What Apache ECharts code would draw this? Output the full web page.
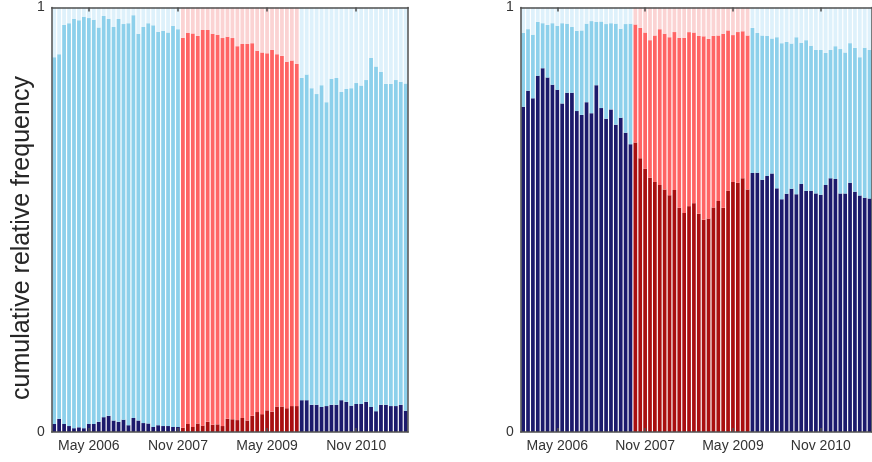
<!DOCTYPE html>
<html>
<head>
<meta charset="utf-8">
<script src="https://cdn.jsdelivr.net/npm/echarts@6/dist/echarts.min.js"></script>
<style>
  html, body { margin: 0; padding: 0; background: #fff; }
  #chart { width: 872px; height: 462px; }
</style>
</head>
<body>
<div id="chart"></div>
<script>
// Monthly observations, Oct 2005 – Sep 2011
const categories = [
  'Oct 2005','Nov 2005','Dec 2005',
  'Jan 2006','Feb 2006','Mar 2006','Apr 2006','May 2006','Jun 2006','Jul 2006','Aug 2006','Sep 2006','Oct 2006','Nov 2006','Dec 2006',
  'Jan 2007','Feb 2007','Mar 2007','Apr 2007','May 2007','Jun 2007','Jul 2007','Aug 2007','Sep 2007','Oct 2007','Nov 2007','Dec 2007',
  'Jan 2008','Feb 2008','Mar 2008','Apr 2008','May 2008','Jun 2008','Jul 2008','Aug 2008','Sep 2008','Oct 2008','Nov 2008','Dec 2008',
  'Jan 2009','Feb 2009','Mar 2009','Apr 2009','May 2009','Jun 2009','Jul 2009','Aug 2009','Sep 2009','Oct 2009','Nov 2009','Dec 2009',
  'Jan 2010','Feb 2010','Mar 2010','Apr 2010','May 2010','Jun 2010','Jul 2010','Aug 2010','Sep 2010','Oct 2010','Nov 2010','Dec 2010',
  'Jan 2011','Feb 2011','Mar 2011','Apr 2011','May 2011','Jun 2011','Jul 2011','Aug 2011','Sep 2011'
];
const tickLabels = ['May 2006', 'Nov 2007', 'May 2009', 'Nov 2010'];
const yTitle = 'cumulative relative frequency';

// Left panel: cumulative share of the lowest state and of the two lowest states
const leftDark = [
  0.019,0.031,0.019,0.014,0.009,0.011,0.009,0.019,0.019,0.024,0.035,0.038,0.027,0.024,0.029,0.016,0.033,0.027,0.021,0.020,0.012,0.016,0.014,0.014,0.012,0.012,
  0.010,0.019,0.012,0.020,0.015,0.024,0.017,0.018,0.014,0.031,0.030,0.028,0.033,0.027,0.038,0.047,0.042,0.051,0.048,0.060,0.060,0.056,0.061,0.061,
  0.075,0.075,0.064,0.064,0.059,0.061,0.064,0.064,0.075,0.071,0.062,0.066,0.066,0.071,0.059,0.049,0.064,0.064,0.061,0.061,0.064,0.050
];
const leftMid = [
  0.883,0.890,0.959,0.963,0.973,0.970,0.978,0.975,0.971,0.953,0.980,0.973,0.954,0.973,0.961,0.963,0.982,0.938,0.954,0.963,0.958,0.943,0.945,0.941,0.957,0.949,
  0.929,0.940,0.939,0.933,0.947,0.947,0.938,0.936,0.928,0.931,0.928,0.909,0.914,0.914,0.916,0.898,0.894,0.892,0.900,0.890,0.886,0.872,0.875,0.867,
  0.834,0.842,0.810,0.796,0.817,0.777,0.832,0.834,0.801,0.808,0.810,0.822,0.816,0.829,0.881,0.861,0.848,0.820,0.820,0.829,0.825,0.821
];
const leftRecession = ['Dec 2007', 'Nov 2009'];

// Right panel
const rightDark = [
  0.766,0.804,0.786,0.839,0.857,0.835,0.818,0.806,0.774,0.799,0.799,0.756,0.747,0.777,0.751,0.817,0.763,0.738,0.760,0.724,0.740,0.705,0.678,
  0.682,0.645,0.620,0.599,0.589,0.582,0.571,0.558,0.570,0.528,0.516,0.532,0.539,0.514,0.500,0.503,0.529,0.544,0.528,0.568,0.589,0.587,0.598,0.571,
  0.610,0.611,0.594,0.603,0.609,0.574,0.548,0.561,0.573,0.560,0.584,0.568,0.568,0.562,0.559,0.582,0.598,0.596,0.562,0.562,0.587,0.566,0.557,0.552,0.550
];
const rightMid = [
  0.940,0.949,0.936,0.966,0.963,0.959,0.963,0.957,0.963,0.962,0.954,0.945,0.946,0.962,0.968,0.966,0.967,0.961,0.963,0.962,0.950,0.961,0.962,
  0.960,0.952,0.941,0.923,0.934,0.949,0.938,0.930,0.942,0.929,0.929,0.942,0.941,0.933,0.932,0.926,0.933,0.934,0.938,0.946,0.935,0.942,0.944,0.934,
  0.952,0.940,0.934,0.933,0.927,0.930,0.916,0.919,0.915,0.930,0.917,0.923,0.910,0.900,0.900,0.893,0.900,0.909,0.902,0.894,0.916,0.905,0.883,0.905,0.900
];
const rightRecession = ['Sep 2007', 'Aug 2009'];

const PALETTE = {
  normal:    { dark: '#1c1a6c', mid: '#8dd0eb', top: '#def1fb' },
  recession: { dark: '#a90f10', mid: '#ff6464', top: '#fbd3d3' }
};
const AXIS = '#505050';
const FONT = 'Liberation Sans, Arial, Helvetica, sans-serif';
const tickIdx = tickLabels.map(t => categories.indexOf(t));
const showAt = i => tickIdx.indexOf(i) >= 0;

function bandAxis(gridIndex, position, showLabels) {
  return {
    type: 'category', gridIndex, position, data: categories, boundaryGap: true, z: 5,
    axisLine: { show: true, onZero: false, lineStyle: { color: AXIS, width: 1.5 } },
    axisTick: { show: true, inside: true, length: 4, alignWithLabel: true, interval: showAt,
                lineStyle: { color: AXIS, width: 1.5 } },
    axisLabel: { show: showLabels, interval: showAt, color: '#333', fontSize: 14, fontFamily: FONT, margin: 7 },
    splitLine: { show: false }
  };
}

function valueAxis(gridIndex, position, withLabels) {
  return {
    type: 'value', gridIndex, position, min: 0, max: 1, interval: 1, z: 5,
    axisLine: { show: true, lineStyle: { color: AXIS, width: 1.5 } },
    axisTick: { show: false },
    axisLabel: { show: withLabels, color: '#333', fontSize: 14, fontFamily: FONT, margin: 7 },
    splitLine: { show: false }
  };
}

function panelSeries(dark, mid, span, axisIndex) {
  const a = categories.indexOf(span[0]);
  const b = categories.indexOf(span[1]);
  const pal = i => (i >= a && i <= b) ? PALETTE.recession : PALETTE.normal;
  const common = {
    type: 'bar', stack: 'panel' + axisIndex, xAxisIndex: axisIndex * 2, yAxisIndex: axisIndex * 2,
    barCategoryGap: '24%', silent: true
  };
  return [
    Object.assign({}, common, {
      data: dark.map((v, i) => ({ value: v, itemStyle: { color: pal(i).dark } }))
    }),
    Object.assign({}, common, {
      data: mid.map((v, i) => ({ value: +(v - dark[i]).toFixed(4), itemStyle: { color: pal(i).mid } }))
    }),
    Object.assign({}, common, {
      data: mid.map((v, i) => ({ value: +(1 - v).toFixed(4), itemStyle: { color: pal(i).top } }))
    })
  ];
}

const chart = echarts.init(document.getElementById('chart'), null, { renderer: 'canvas' });
chart.setOption({
  animation: false,
  backgroundColor: '#ffffff',
  grid: [
    { left: 51.7, top: 7.5, width: 356.5, height: 424.5 },
    { left: 520.7, top: 7.5, width: 356.5, height: 424.5 }
  ],
  xAxis: [
    bandAxis(0, 'bottom', true), bandAxis(0, 'top', false),
    bandAxis(1, 'bottom', true), bandAxis(1, 'top', false)
  ],
  yAxis: [
    valueAxis(0, 'left', true), valueAxis(0, 'right', false),
    valueAxis(1, 'left', true), valueAxis(1, 'right', false)
  ],
  graphic: [{
    type: 'text', x: 22, y: 238, rotation: Math.PI / 2,
    style: { text: yTitle, font: '25px ' + FONT, fill: '#262626', align: 'center', verticalAlign: 'middle' }
  }],
  series: [].concat(
    panelSeries(leftDark, leftMid, leftRecession, 0),
    panelSeries(rightDark, rightMid, rightRecession, 1)
  )
});
</script>
</body>
</html>
